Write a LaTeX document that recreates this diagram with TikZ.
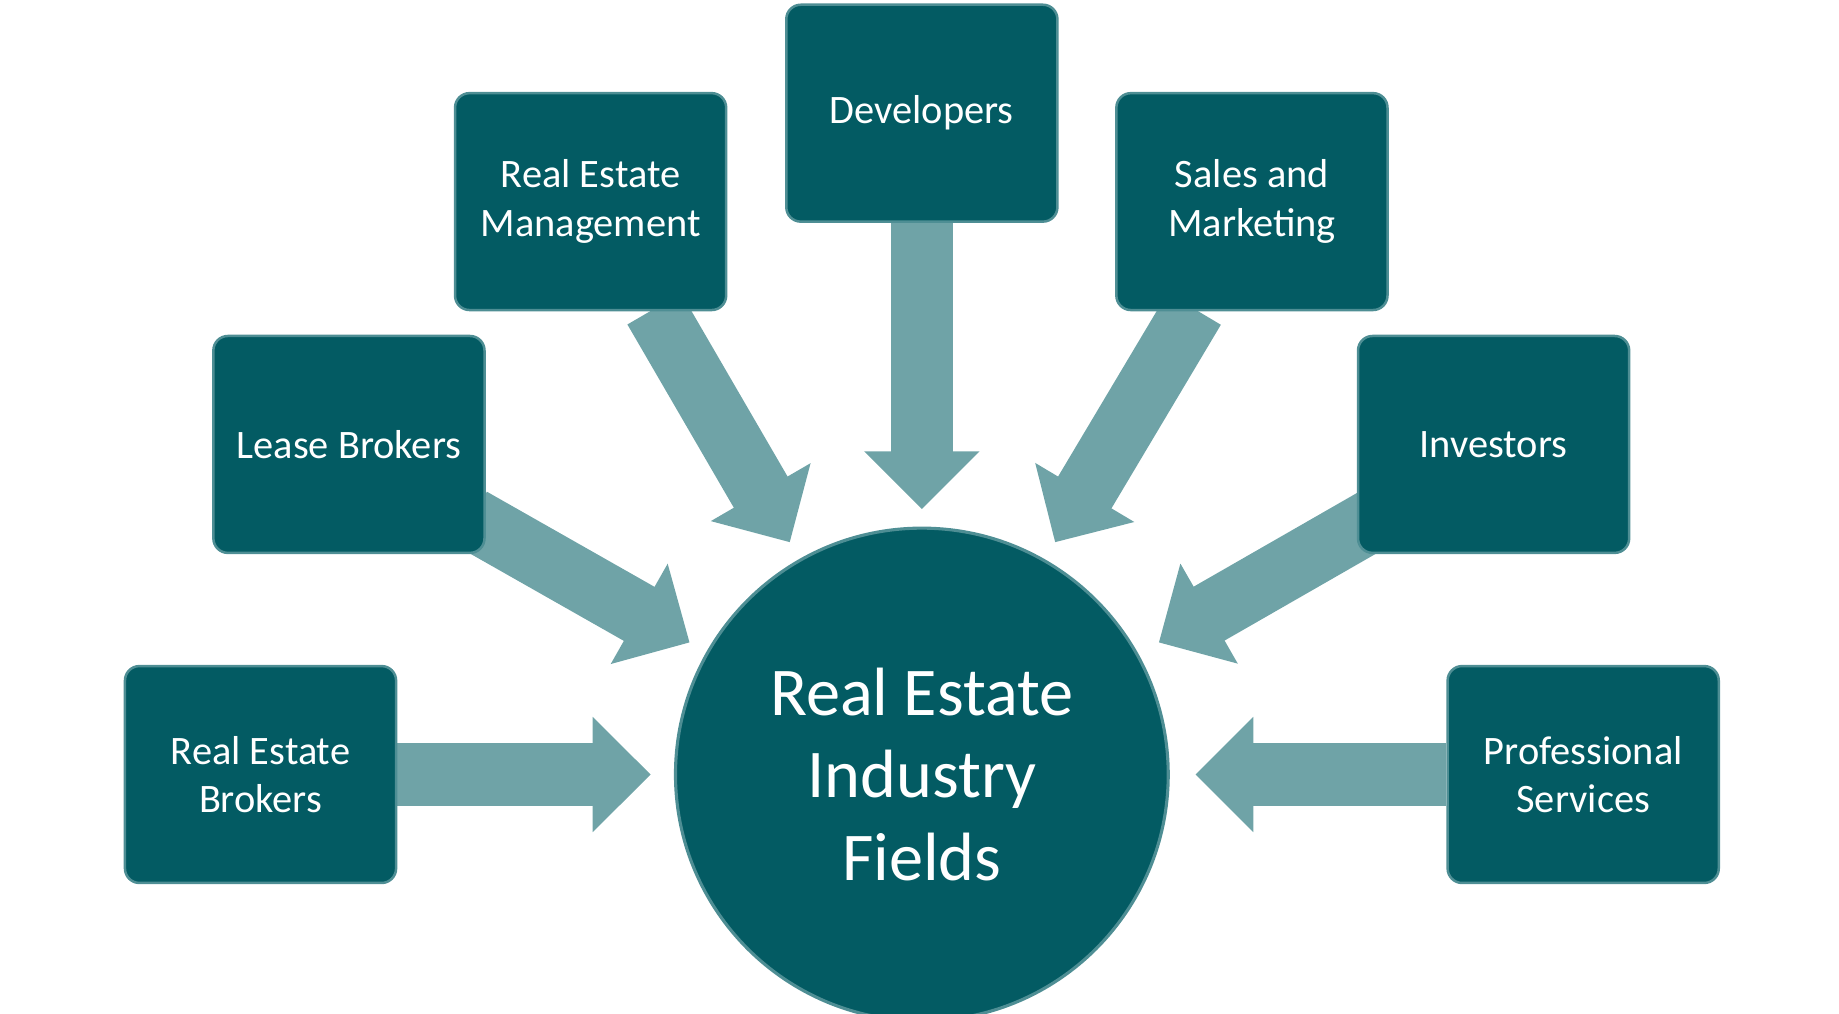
\documentclass[tikz,border=0pt]{standalone}
\usepackage{fontspec}
\setmainfont{Carlito}
\usetikzlibrary{arrows.meta}
\definecolor{boxc}{HTML}{035B63}
\definecolor{edgec}{HTML}{4E8E94}
\definecolor{arrc}{HTML}{6FA3A7}
\pgfdeclarelayer{bg}
\pgfsetlayers{bg,main}
\begin{document}
\begin{tikzpicture}[x=0.02cm,y=-0.02cm,
  fbox/.style={draw=edgec,line width=1.2pt,fill=boxc,rounded corners=7pt,minimum width=230*0.02cm,minimum height=184*0.02cm,text=white,font=\fontsize{19.5}{23.5}\selectfont,align=center,inner sep=2pt},
  barr/.style={draw=arrc,line width=30pt,-{Triangle[length=28pt,width=54pt,fill=arrc]}}]
\useasboundingbox (0,0) rectangle (1560,860);
\node[fbox] (reb) at (221,657) {Real Estate\\Brokers};
\node[fbox] (lb) at (296,377) {Lease Brokers};
\node[fbox] (rem) at (501,171) {Real Estate\\Management};
\node[fbox] (dev) at (782,96) {Developers};
\node[fbox] (sm) at (1062,171) {Sales and\\Marketing};
\node[fbox] (inv) at (1267,377) {Investors};
\node[fbox] (ps) at (1343,657) {Professional\\Services};
\node[circle,draw=edgec,line width=1.5pt,fill=boxc,minimum size=418*0.02cm,inner sep=0pt,text=white,align=center,font=\fontsize{33}{40}\selectfont] (c) at (782,657) {Real Estate\\Industry\\Fields};
\coordinate (t1) at (552,657);
\coordinate (t2) at (585,545);
\coordinate (t3) at (670,460);
\coordinate (t4) at (782,432);
\coordinate (t5) at (895,460);
\coordinate (t6) at (983,545);
\coordinate (t7) at (1014,657);
\coordinate (s1) at (reb.east);
\coordinate (s2) at (400,440);
\coordinate (s3) at (555,262);
\coordinate (s4) at (dev.south);
\coordinate (s5) at (1013,262);
\coordinate (s6) at (1166,440);
\coordinate (s7) at (ps.west);
\begin{pgfonlayer}{bg}
\foreach \i in {1,...,7}{\draw[barr] (s\i) -- (t\i);}
\end{pgfonlayer}
\end{tikzpicture}
\end{document}
